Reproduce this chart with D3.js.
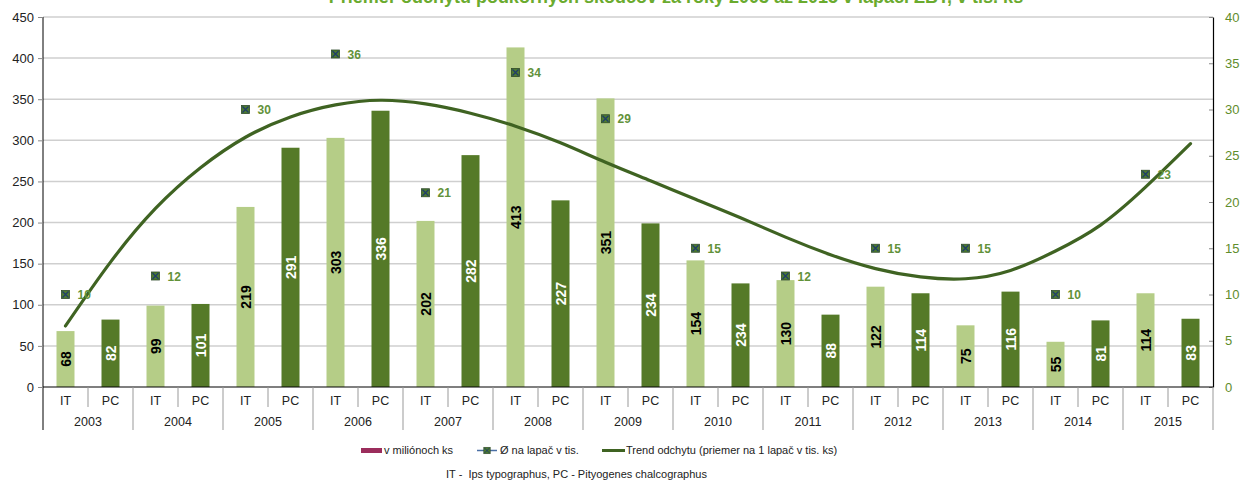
<!DOCTYPE html>
<meta charset="utf-8">
<html>
<head>
<script src="https://d3js.org/d3.v7.min.js"></script>
<style>
  body { margin: 0; background: #fff; }
  text { font-family: "Liberation Sans", Arial, sans-serif; }
</style>
</head>
<body>
<script>
// --- data ---
var years = ["2003","2004","2005","2006","2007","2008","2009","2010","2011","2012","2013","2014","2015"];
var species = ["IT", "PC"];
var itValues = [68, 99, 219, 303, 202, 413, 351, 154, 130, 122, 75, 55, 114];
var pcValues = [82, 101, 291, 336, 282, 227, 199, 126, 88, 114, 116, 81, 83];
var itLabels = ["68","99","219","303","202","413","351","154","130","122","75","55","114"];
var pcLabels = ["82","101","291","336","282","227","234","234","88","114","116","81","83"];
var perTrap = [10, 12, 30, 36, 21, 34, 29, 15, 12, 15, 15, 10, 23];
// trend line read at every category slot (IT, PC, IT, PC ...)
var trend = [6.6, 13.5, 19.3, 23.7, 27.0, 29.2, 30.5, 31.0, 30.6, 29.6, 28.2, 26.4, 24.3,
             22.3, 20.3, 18.3, 16.2, 14.3, 12.8, 11.9, 11.7, 12.6, 14.7, 17.5, 21.6, 26.3];
var leftTicks = [0, 50, 100, 150, 200, 250, 300, 350, 400, 450];
var rightTicks = [0, 5, 10, 15, 20, 25, 30, 35, 40];

var W = 1242, H = 481,
    pLeft = 43, pRight = 1213, pTop = 17, pBottom = 387,
    lightGreen = "#b5cd87", darkGreen = "#557a28", trendColor = "#3f6322",
    labelGreen = "#62923a";

var slots = [];
years.forEach(function(yr, i){
    slots.push({key: yr + "-IT", year: yr, sp: species[0], v: itValues[i], label: itLabels[i], idx: i});
    slots.push({key: yr + "-PC", year: yr, sp: species[1], v: pcValues[i], label: pcLabels[i], idx: i});
});

var svg = d3.select("body").append("svg").attr("width", W).attr("height", H);

var x = d3.scaleBand().domain(slots.map(function(d){ return d.key; }))
          .range([pLeft, pRight]).paddingInner(0.6).paddingOuter(0.3);
var y = d3.scaleLinear().domain([0, 450]).range([pBottom, pTop]);
var y2 = d3.scaleLinear().domain([0, 40]).range([pBottom, pTop]);
var step = x.step();

// title (cut off at the top of the picture)
svg.append("text").attr("x", 676).attr("y", 3).attr("text-anchor", "middle")
   .attr("font-size", 18).attr("font-weight", "bold").attr("fill", "#6aab2e")
   .text("Priemer odchytu podkôrnych škodcov za roky 2003 až 2015 v lapači ZBT, v tis. ks");

// gridlines
svg.append("g").selectAll("line").data(leftTicks.slice(1)).enter().append("line")
   .attr("x1", pLeft).attr("x2", pRight)
   .attr("y1", function(d){ return y(d); }).attr("y2", function(d){ return y(d); })
   .attr("stroke", "#cfcfcf").attr("stroke-width", 1.5);

// left axis
var gl = svg.append("g").attr("transform", "translate(" + pLeft + ",0)")
   .call(d3.axisLeft(y).tickValues(leftTicks).tickSize(5).tickPadding(4));
gl.select(".domain").attr("stroke", "#000").attr("d", "M0," + pTop + "V" + (pBottom + 43));
gl.selectAll(".tick line").attr("stroke", "#888");
gl.selectAll("text").attr("font-size", 13).attr("fill", "#222").style("font-family", "Liberation Sans, Arial");

// right axis
var gr = svg.append("g").attr("transform", "translate(" + pRight + ",0)")
   .call(d3.axisRight(y2).tickValues(rightTicks).tickSize(0).tickPadding(12));
gr.select(".domain").attr("stroke", "#000").attr("stroke-width", 1.2);
gr.selectAll("text").attr("font-size", 13).attr("fill", "#5f8d2c").style("font-family", "Liberation Sans, Arial");
gr.selectAll(".tick").append("line").attr("x1", -4).attr("x2", 0).attr("stroke", "#888");

// bars
var bars = svg.append("g").selectAll("g").data(slots).enter().append("g");
bars.append("rect")
    .attr("x", function(d){ return x(d.key); })
    .attr("width", x.bandwidth())
    .attr("y", function(d){ return y(d.v); })
    .attr("height", function(d){ return pBottom - y(d.v); })
    .attr("fill", function(d){ return d.sp == "IT" ? lightGreen : darkGreen; });
bars.append("text")
    .attr("transform", function(d){
        var cx = x(d.key) + x.bandwidth() / 2, cy = (y(d.v) + pBottom) / 2;
        return "translate(" + cx + "," + cy + ") rotate(-90)";
    })
    .attr("text-anchor", "middle").attr("dy", "0.36em")
    .attr("font-size", 14).attr("font-weight", "bold")
    .attr("fill", function(d){ return d.sp == "IT" ? "#000" : "#fff"; })
    .text(function(d){ return d.label; });

// x axis line
svg.append("line").attr("x1", pLeft).attr("x2", pRight).attr("y1", pBottom).attr("y2", pBottom)
   .attr("stroke", "#000").attr("stroke-width", 1.2);

// category axis: separators and labels
var seps = d3.range(1, slots.length + 1);
svg.append("g").selectAll("line").data(seps).enter().append("line")
   .attr("x1", function(k){ return pLeft + k * step; })
   .attr("x2", function(k){ return pLeft + k * step; })
   .attr("y1", pBottom)
   .attr("y2", function(k){ return k % 2 == 0 ? pBottom + 43 : pBottom + 20; })
   .attr("stroke", "#999");
svg.append("g").selectAll("text").data(slots).enter().append("text")
   .attr("x", function(d){ return x(d.key) + x.bandwidth() / 2; })
   .attr("y", pBottom + 18).attr("text-anchor", "middle")
   .attr("font-size", 12.5).attr("fill", "#222")
   .text(function(d){ return d.sp; });
svg.append("g").selectAll("text").data(years).enter().append("text")
   .attr("x", function(d, i){ return pLeft + (2 * i + 1) * step; })
   .attr("y", pBottom + 39).attr("text-anchor", "middle")
   .attr("font-size", 12.5).attr("fill", "#222")
   .text(function(d){ return d; });

// trend line
var line = d3.line()
    .x(function(d, i){ return x(slots[i].key) + x.bandwidth() / 2; })
    .y(function(d){ return y2(d); })
    .curve(d3.curveNatural);
svg.append("path").datum(trend).attr("d", line)
   .attr("fill", "none").attr("stroke", trendColor).attr("stroke-width", 3.2)
   .attr("stroke-linecap", "round");

// per trap markers
function marker(g){
    g.append("rect").attr("x", -4).attr("y", -4).attr("width", 8).attr("height", 8)
     .attr("fill", "#4c7a2e").attr("stroke", "#2e4a2a").attr("stroke-width", 0.8);
    g.append("path").attr("d", "M-3,-3L3,3M3,-3L-3,3").attr("stroke", "#1f3d6a").attr("stroke-width", 1.2);
}
var pts = svg.append("g").selectAll("g").data(perTrap).enter().append("g")
   .attr("transform", function(d, i){
       return "translate(" + (x(years[i] + "-IT") + x.bandwidth() / 2) + "," + y2(d) + ")";
   });
pts.each(function(){ marker(d3.select(this)); });
pts.append("text").attr("x", 12).attr("y", 4.5)
   .attr("font-size", 12).attr("font-weight", "bold").attr("fill", labelGreen)
   .text(function(d){ return d; });

// legend
var lg = svg.append("g").attr("font-size", 11).attr("fill", "#222");
lg.append("rect").attr("x", 361).attr("y", 448).attr("width", 21).attr("height", 5).attr("fill", "#9b2d5c");
lg.append("text").attr("x", 384).attr("y", 454).text("v miliónoch ks");
lg.append("line").attr("x1", 477).attr("x2", 497).attr("y1", 450.5).attr("y2", 450.5).attr("stroke", "#4a6fa5").attr("stroke-width", 1.5);
var lm = lg.append("g").attr("transform", "translate(487,450.5) scale(0.8)");
marker(lm);
lg.append("text").attr("x", 500).attr("y", 454).text("Ø na lapač v tis.");
lg.append("line").attr("x1", 602).attr("x2", 625).attr("y1", 450.5).attr("y2", 450.5).attr("stroke", trendColor).attr("stroke-width", 3);
lg.append("text").attr("x", 626).attr("y", 454).text("Trend odchytu (priemer na 1 lapač v tis. ks)");

svg.append("text").attr("x", 446).attr("y", 478).attr("font-size", 11).attr("fill", "#222")
   .attr("xml:space", "preserve").style("white-space", "pre")
   .text("IT -  Ips typographus, PC - Pityogenes chalcographus");
</script>
</body>
</html>
